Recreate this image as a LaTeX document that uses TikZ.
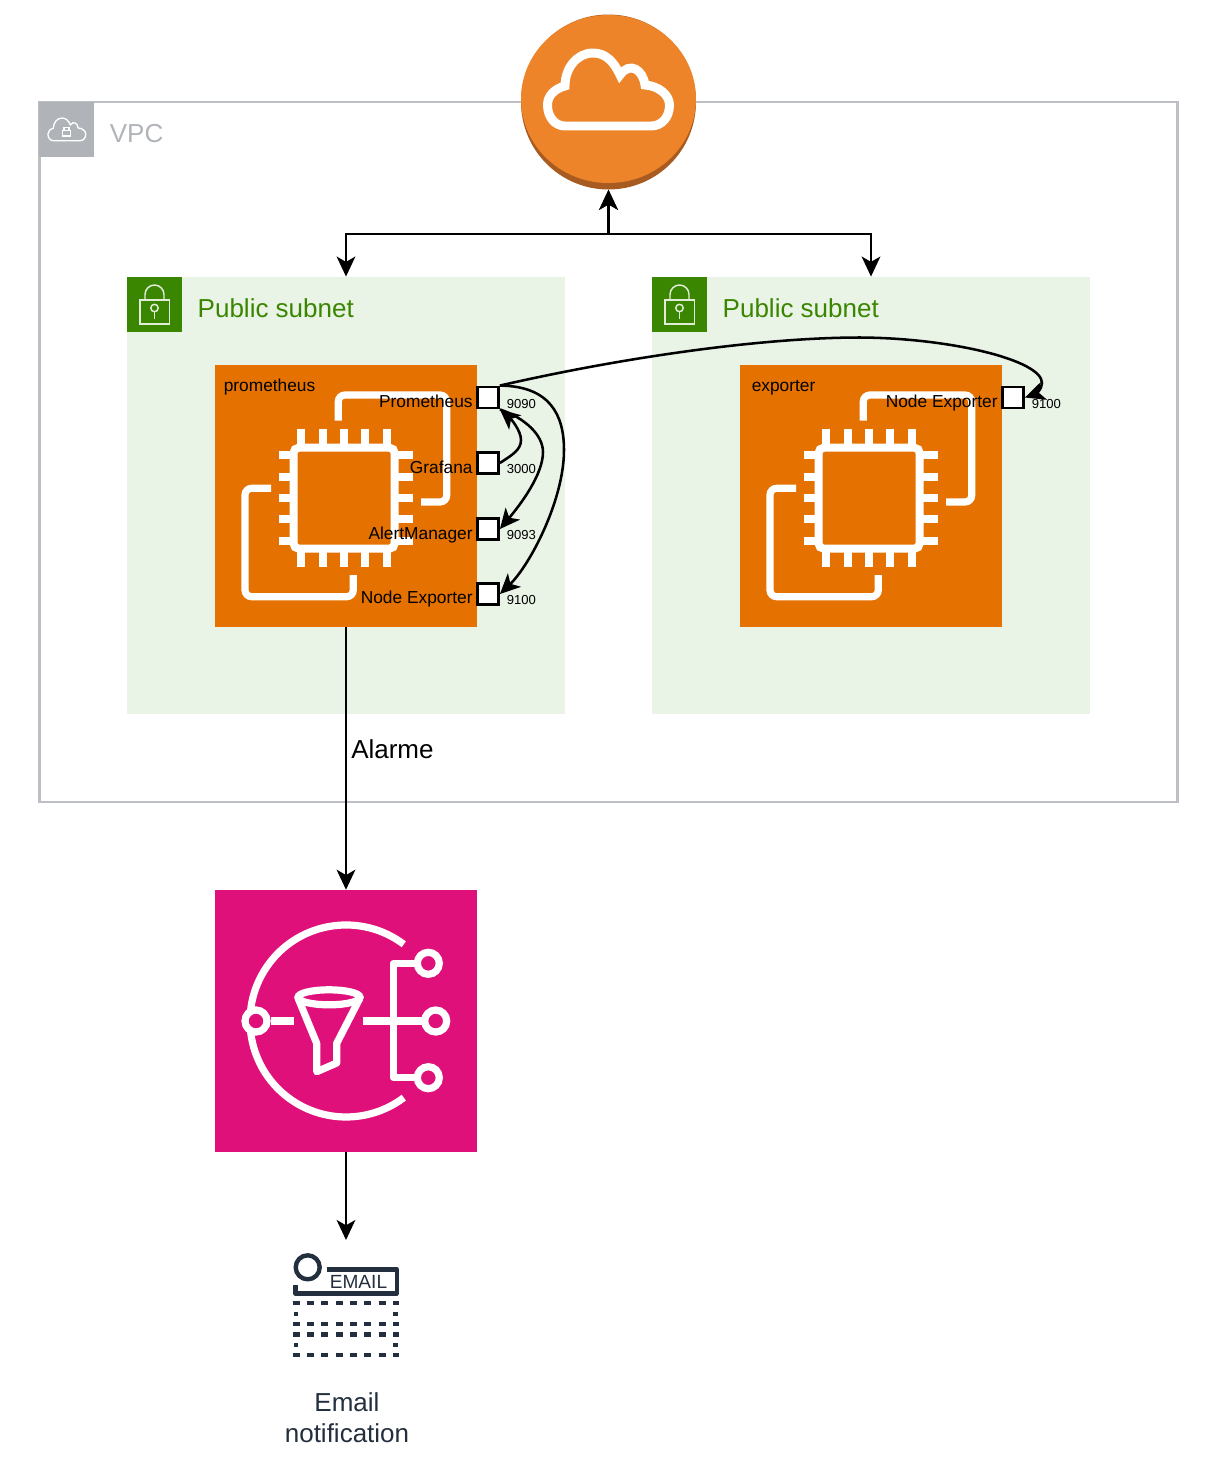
\documentclass[tikz,border=0pt]{standalone}
\usepackage{fontspec}
\setmainfont{Liberation Sans}
\usetikzlibrary{positioning,arrows.meta}
\definecolor{vpcgrey}{HTML}{B0B4B8}
\definecolor{subgreen}{HTML}{3B8600}
\definecolor{subfill}{HTML}{E9F3E6}
\definecolor{ecorange}{HTML}{E57200}
\definecolor{igworange}{HTML}{EE8429}
\definecolor{igwshade}{HTML}{A85B20}
\definecolor{snspink}{HTML}{DF1079}
\definecolor{mailink}{HTML}{232F3E}
\tikzset{
  arrowhd/.tip={Stealth[length=15pt,width=14pt,inset=4pt]},
  connect/.style={-arrowhd, line width=1.9pt},
  biconnect/.style={arrowhd-arrowhd, line width=1.9pt},
  bigtext/.style={font=\fontsize{19.5}{23}\selectfont, inner sep=0pt},
  midtext/.style={font=\fontsize{13}{15}\selectfont, inner sep=0pt, text height=9.5pt, text depth=3pt},
  porttext/.style={font=\fontsize{9.8}{12}\selectfont, inner sep=0pt, text height=7pt, text depth=0pt},
  subnet/.style={rectangle, fill=subfill, minimum width=328.5pt, minimum height=328pt, inner sep=0pt},
  subicon/.style={rectangle, fill=subgreen, minimum size=41.25pt, inner sep=0pt, anchor=north west},
  ecbox/.style={rectangle, fill=ecorange, minimum size=196.5pt, inner sep=0pt},
  port/.style={rectangle, draw=black, fill=white, line width=1.9pt, minimum size=16pt, inner sep=0pt},
  iconline/.style={draw=white, line width=5.4pt},
  mailline/.style={draw=mailink, line width=3.3pt, line join=round},
  mailrow/.style={mailline, dash pattern=on 5.25pt off 5.5pt},
  mailcol/.style={mailline, dash pattern=on 3pt off 5.1pt},
  cloudicon/.pic={
    \draw (-44,36) -- (42,36) .. controls (53,36) and (60.5,27) .. (60.5,15)
      .. controls (60.5,5) and (50,-4) .. (36,-5)
      .. controls (34,-20) and (21,-29) .. (11,-15)
      .. controls (5,-28) and (-3,-37) .. (-16,-37)
      .. controls (-32,-37) and (-44,-22) .. (-44,-4)
      .. controls (-55,-1) and (-61.5,6) .. (-61.5,15)
      .. controls (-61.5,27) and (-54,36) .. (-44,36) -- cycle;
  },
  lockicon/.pic={
    \draw (13,23) rectangle (42.5,47);
    \draw (18,23) -- (18,17.5) arc[start angle=180, end angle=360, radius=9.5] -- (37,23);
    \draw (27.5,31) circle[radius=3.7];
    \draw (27.5,34.7) -- (27.5,42);
  },
  chipicon/.pic={
    \draw[iconline, line width=6pt, rounded corners=4pt] (78.5,82.7) rectangle (179.7,183.7);
    \foreach \pinx in {86,108,129,150,172} {
      \draw[iconline] (\pinx,63.7) -- (\pinx,79);
      \draw[iconline] (\pinx,187) -- (\pinx,202);
    }
    \foreach \piny in {90,112,133,154,176} {
      \draw[iconline] (63.7,\piny) -- (79,\piny);
      \draw[iconline] (183,\piny) -- (198,\piny);
    }
    \draw[iconline, rounded corners=5pt] (123.3,55.7) -- (123.3,30) -- (231.7,30) -- (231.7,137) -- (206,137);
    \draw[iconline, rounded corners=5pt] (56,123.3) -- (30,123.3) -- (30,231.7) -- (138.3,231.7) -- (138.3,210);
  }
}

\begin{document}
\begin{tikzpicture}[x=0.75pt,y=-0.75pt]
    \useasboundingbox (0,0) rectangle (1216,1465);

    % vpc
    \node[rectangle, draw=vpcgrey!85, line width=1.6pt, minimum width=853.5pt, minimum height=525pt, inner sep=0pt] (Vpc) at (608.5,452) {};
    \node[rectangle, fill=vpcgrey, minimum size=41.25pt, inner sep=0pt, anchor=north west] (VpcIcon) at (39,102) {};
    \pic[white, line width=1pt, scale=.31] at (67,129.5) {cloudicon};
    \draw[white, line width=1.2pt] (62.5,130.5) rectangle (70.5,136);
    \draw[white, line width=1pt] (64,130.5) -- (64,127.5) -- (69,127.5) -- (69,130.5);
    \node[bigtext, text=vpcgrey, right=11.3pt of VpcIcon, yshift=-2.5pt] (VpcText) {VPC};

    % subnets
    \node[subnet] (SubA) at (346,495.5) {};
    \node[subnet] (SubB) at (871,495.5) {};
    \node[subicon] (SubAIcon) at (127,277) {};
    \node[subicon] (SubBIcon) at (652,277) {};
    \pic[white!85!subgreen, line width=1.1pt] at (127,277) {lockicon};
    \pic[white!85!subgreen, line width=1.1pt] at (652,277) {lockicon};
    \node[bigtext, text=subgreen, right=11.2pt of SubAIcon, yshift=-2.7pt] (SubAText) {Public subnet};
    \node[bigtext, text=subgreen, right=11.2pt of SubBIcon, yshift=-2.7pt] (SubBText) {Public subnet};

    % gateway
    \node[circle, fill=igwshade, minimum size=131.25pt, inner sep=0pt] (Igw) at (608.5,102) {};
    \fill[igworange] (608.5,99) ellipse[x radius=87.5, y radius=84];
    \pic[white, line width=6.7pt] at (609,90) {cloudicon};

    % instances
    \node[ecbox] (Prom) at (346,496) {};
    \node[ecbox] (Exp) at (871,496) {};
    \pic at (215,365) {chipicon};
    \pic at (740,365) {chipicon};
    \node[midtext, anchor=west] (PromName) at (223.5,387) {prometheus};
    \node[midtext, anchor=west] (ExpName) at (751.5,387) {exporter};

    % ports
    \node[port] (P9090) at (488,397.5) {};
    \node[port] (P3000) at (488,463) {};
    \node[port] (P9093) at (488,529) {};
    \node[port] (P9100) at (488,594) {};
    \node[port] (E9100) at (1013,397.5) {};

    \node[midtext, left=2.4pt of P9090, yshift=-4pt] (PromLabel) {Prometheus};
    \node[midtext, left=2.4pt of P3000, yshift=-4.5pt] (GrafLabel) {Grafana};
    \node[midtext, left=2.4pt of P9093, yshift=-4.5pt] (AlertLabel) {AlertManager};
    \node[midtext, left=2.4pt of P9100, yshift=-4pt] (NodeLabel) {Node Exporter};
    \node[midtext, left=2.4pt of E9100, yshift=-4pt] (ExpLabel) {Node Exporter};

    \node[porttext, right=5pt of P9090, yshift=-4.6pt] (T9090) {9090};
    \node[porttext, right=5pt of P3000, yshift=-4.6pt] (T3000) {3000};
    \node[porttext, right=5pt of P9093, yshift=-4.6pt] (T9093) {9093};
    \node[porttext, right=5pt of P9100, yshift=-4.6pt] (T9100) {9100};
    \node[porttext, right=5pt of E9100, yshift=-4.6pt] (TE9100) {9100};

    % sns
    \node[rectangle, fill=snspink, minimum size=196.5pt, inner sep=0pt] (Sns) at (346,1021) {};
    \draw[iconline] (403.8,944.3) arc[start angle=-53, end angle=-307, radius=96];
    \draw[iconline, fill=snspink] (256,1021) circle[radius=11];
    \draw[iconline] (270.7,1021) -- (294,1021);
    \draw[iconline] (329,997.3) ellipse[x radius=31, y radius=7.5];
    \draw[iconline, line join=round] (298,998) -- (316.7,1043.3) -- (316.7,1071.7) -- (336.7,1063) -- (336.7,1043.3) -- (360,998);
    \draw[iconline] (363.3,1021) -- (425,1021);
    \draw[iconline, line join=round] (418,963.3) -- (393.3,963.3) -- (393.3,1077.7) -- (418,1077.7);
    \draw[iconline, fill=snspink] (428.3,963.3) circle[radius=11];
    \draw[iconline, fill=snspink] (435.7,1021) circle[radius=11];
    \draw[iconline, fill=snspink] (428.3,1077.7) circle[radius=11];

    % email
    \coordinate (MailTop) at (346,1240);
    \draw[mailline] (307.7,1267.3) circle[radius=12];
    \draw[mailline] (327.3,1269.3) -- (396.7,1269.3) -- (396.7,1293.3) -- (295.3,1293.3) -- (295.3,1285);
    \node[font=\fontsize{14.3}{16}\selectfont, text=mailink, inner sep=0pt] (MailBadge) at (358.5,1282) {EMAIL};
    \draw[mailrow] (292.5,1302.7) -- (398.8,1302.7);
    \draw[mailrow] (292.5,1324) -- (398.8,1324);
    \draw[mailrow] (292.5,1334.3) -- (398.8,1334.3);
    \draw[mailrow] (292.5,1355) -- (398.8,1355);
    \draw[mailcol] (296,1300.7) -- (296,1326);
    \draw[mailcol] (395.3,1300.7) -- (395.3,1326);
    \draw[mailcol] (296,1332.3) -- (296,1357);
    \draw[mailcol] (395.3,1332.3) -- (395.3,1357);
    \node[font=\fontsize{19.5}{23}\selectfont, text=mailink, align=center, inner sep=0pt] (MailText) at (347,1418) {Email\\notification};

    % connections
    \draw[biconnect] (Igw.south) -- ++(0,44) -| (SubA.north);
    \draw[biconnect] (Igw.south) -- ++(0,44) -| (SubB.north);
    \draw[connect] (Prom.south) -- node[bigtext, anchor=west, pos=.465, xshift=3pt] (AlarmText) {Alarme} (Sns.north);
    \draw[connect] (Sns.south) -- (MailTop);

    \draw[connect] (P9090.north east) .. controls (620,358) and (760,337.5) .. (860,337.5)
        .. controls (950,338) and (1042,360) .. (1042,383) .. controls (1042,390) and (1035,394) .. (E9100.east);
    \draw[connect] (P9090.north east) .. controls (550,386) and (564,415) .. (564,450)
        .. controls (564,500) and (530,565) .. (P9100.east);
    \draw[connect] (P9090.south east) .. controls (525,418) and (543,435) .. (543,452)
        .. controls (543,475) and (520,505) .. (P9093.east);
    \draw[connect] (P3000.east) .. controls (512,455) and (521,450) .. (521,440)
        .. controls (521,430) and (510,418) .. (P9090.south east);
\end{tikzpicture}
\end{document}
